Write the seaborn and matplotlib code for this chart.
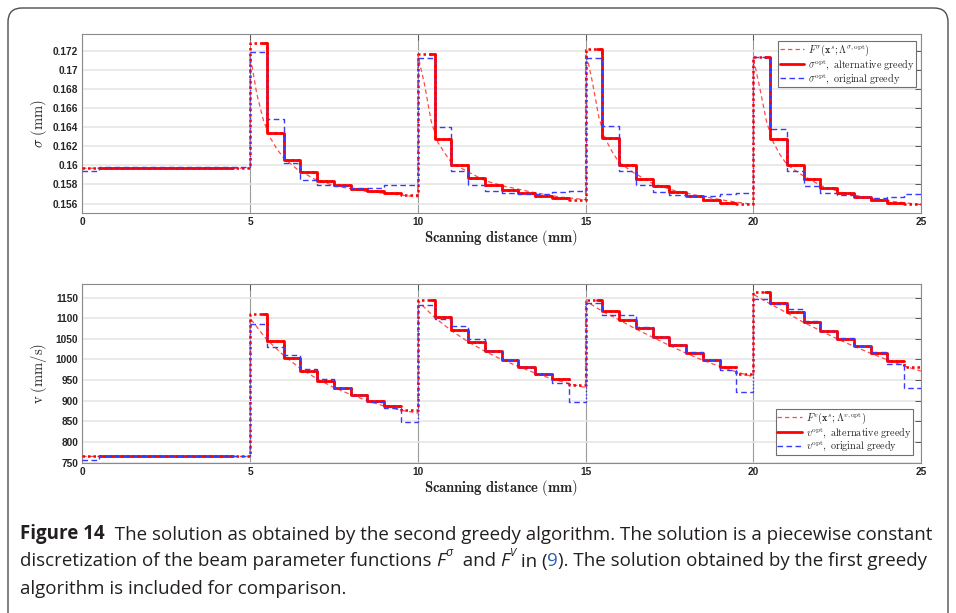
import numpy as np
import pandas as pd
import matplotlib
matplotlib.use("Agg")
import matplotlib.pyplot as plt
import seaborn as sns
from matplotlib.lines import Line2D
from matplotlib.patches import FancyBboxPatch
from matplotlib.transforms import IdentityTransform

# ---------------- data ----------------
step_width = 0.5
block_starts = [0, 5, 10, 15, 20]
block_ends = [5, 10, 15, 20, 25]

sigma_alt = [0.1597, 0.1597, 0.1597, 0.1597, 0.1597, 0.1597, 0.1597, 0.1597, 0.1597, 0.1597,
             0.1728, 0.1634, 0.1606, 0.1593, 0.1584, 0.1579, 0.1575, 0.1573, 0.1571, 0.1569,
             0.1717, 0.1628, 0.1600, 0.1587, 0.1579, 0.1574, 0.1571, 0.1568, 0.1566, 0.1564,
             0.1722, 0.1629, 0.1600, 0.1586, 0.1578, 0.1572, 0.1568, 0.1564, 0.1561, 0.1559,
             0.1713, 0.1628, 0.1600, 0.1586, 0.1576, 0.1571, 0.1567, 0.1564, 0.1561, 0.1560]
sigma_orig = [0.1594, 0.1598, 0.1598, 0.1598, 0.1598, 0.1598, 0.1598, 0.1598, 0.1598, 0.1598,
              0.1719, 0.1648, 0.1602, 0.1585, 0.1579, 0.1578, 0.1576, 0.1576, 0.1579, 0.1579,
              0.1712, 0.1640, 0.1594, 0.1579, 0.1573, 0.1571, 0.1570, 0.1570, 0.1572, 0.1573,
              0.1712, 0.1641, 0.1594, 0.1579, 0.1572, 0.1569, 0.1568, 0.1568, 0.1570, 0.1571,
              0.1713, 0.1638, 0.1594, 0.1578, 0.1571, 0.1569, 0.1567, 0.1566, 0.1567, 0.1570]
v_alt = [765, 765, 765, 765, 765, 765, 765, 765, 765, 765,
         1110, 1045, 1003, 972, 948, 930, 914, 899, 888, 878,
         1144, 1104, 1072, 1043, 1021, 999, 981, 965, 952, 938,
         1144, 1118, 1096, 1076, 1054, 1034, 1016, 999, 982, 966,
         1163, 1136, 1114, 1090, 1070, 1050, 1033, 1015, 997, 981]
v_orig = [756, 765, 765, 765, 765, 765, 765, 765, 765, 765,
          1085, 1031, 1011, 978, 953, 932, 914, 898, 882, 848,
          1132, 1098, 1081, 1050, 1021, 999, 981, 965, 942, 896,
          1138, 1108, 1108, 1078, 1054, 1034, 1017, 999, 975, 921,
          1146, 1134, 1123, 1094, 1070, 1051, 1033, 1019, 989, 932]

# continuous beam-parameter functions, sampled at offsets within each 5 mm block
f_sigma_offsets = [0.0, 0.2, 0.4, 0.6, 0.8, 1.0, 1.4, 2.0, 2.6, 3.4, 4.2, 5.0]
f_sigma_blocks = [
    [0.1597, 0.1597, 0.1597, 0.1597, 0.1597, 0.1597, 0.1597, 0.1597, 0.1597, 0.1597, 0.1597, 0.1597],
    [0.1716, 0.1675, 0.1647, 0.1629, 0.1617, 0.1608, 0.1596, 0.1584, 0.1578, 0.1573, 0.1570, 0.1567],
    [0.1716, 0.1685, 0.1646, 0.1624, 0.1613, 0.1603, 0.1595, 0.1584, 0.1578, 0.1572, 0.1567, 0.1564],
    [0.1721, 0.1688, 0.1650, 0.1627, 0.1614, 0.1603, 0.1593, 0.1581, 0.1574, 0.1568, 0.1563, 0.1559],
    [0.1713, 0.1680, 0.1645, 0.1624, 0.1611, 0.1601, 0.1591, 0.1579, 0.1572, 0.1566, 0.1562, 0.1559],
]
f_v_offsets = [0.0, 0.5, 1.0, 1.5, 2.0, 2.5, 3.0, 3.5, 4.0, 4.5, 5.0]
f_v_blocks = [
    [765, 765, 765, 765, 765, 765, 765, 765, 765, 765, 765],
    [1100, 1048, 1010, 978, 953, 932, 915, 900, 887, 877, 870],
    [1142, 1102, 1070, 1043, 1020, 1000, 983, 967, 953, 942, 932],
    [1142, 1117, 1096, 1074, 1054, 1034, 1015, 998, 983, 970, 958],
    [1158, 1135, 1113, 1090, 1070, 1050, 1032, 1015, 999, 984, 972],
]

x_ticks = [0, 5, 10, 15, 20, 25]
x_tick_labels = ["0", "5", "10", "15", "20", "25"]
sigma_ticks = [0.156, 0.158, 0.160, 0.162, 0.164, 0.166, 0.168, 0.170, 0.172]
sigma_tick_labels = ["0.156", "0.158", "0.16", "0.162", "0.164", "0.166", "0.168", "0.17", "0.172"]
v_ticks = [750, 800, 850, 900, 950, 1000, 1050, 1100, 1150]
v_tick_labels = ["750", "800", "850", "900", "950", "1000", "1050", "1100", "1150"]

x_label = r"$\mathbf{Scanning\ distance\ (mm)}$"
sigma_label = r"$\sigma\ \mathrm{(mm)}$"
v_label = r"$\mathrm{v\ (mm/s)}$"
sigma_legend = [r"$F^{\sigma}(\mathbf{x}^{s};\mathbf{\Lambda}^{\sigma,\mathrm{opt}})$",
                r"$\sigma^{\mathrm{opt}}\mathrm{,\ alternative\ greedy}$",
                r"$\sigma^{\mathrm{opt}}\mathrm{,\ original\ greedy}$"]
v_legend = [r"$F^{v}(\mathbf{x}^{s};\mathbf{\Lambda}^{v,\mathrm{opt}})$",
            r"$v^{\mathrm{opt}}\mathrm{,\ alternative\ greedy}$",
            r"$v^{\mathrm{opt}}\mathrm{,\ original\ greedy}$"]

# ---------------- style ----------------
sns.set_theme(style="white")
plt.rcParams["font.family"] = ["Liberation Sans", "DejaVu Sans"]
plt.rcParams["mathtext.fontset"] = "cm"

RED = "#ff0000"
FRED = "#ff4a4a"
BLUE = "#3a3aff"
TXT = "#262626"

step_edges = np.arange(0.0, 25.0 + 1e-9, step_width)


def step_xy(vals, lo, hi):
    xs, ys = [], []
    for i, v in enumerate(vals):
        l, r = step_edges[i], step_edges[i + 1]
        if r <= lo or l >= hi:
            continue
        xs += [max(l, lo), min(r, hi)]
        ys += [v, v]
    return np.array(xs), np.array(ys)


def line(ax, x, y, **kw):
    sns.lineplot(x=x, y=y, ax=ax, sort=False, estimator=None, **kw)


def draw_panel(ax, alt, orig, f_offsets, f_blocks):
    fx, fy = [], []
    for s, vals in zip(block_starts, f_blocks):
        fx += [s + o for o in f_offsets]
        fy += list(vals)
    line(ax, np.array(fx), np.array(fy), color=FRED, lw=0.9,
         linestyle=(0, (3.5, 2.5)), zorder=3)
    xs, ys = step_xy(alt, 0, 25)
    line(ax, xs, ys, color=RED, lw=1.8, linestyle=(0, (1, 1.2)), zorder=4)
    for k, (s, e) in enumerate(zip(block_starts, block_ends)):
        lo = s + (step_width if k == 0 else 0.35)
        hi = e - step_width
        xs, ys = step_xy(alt, lo, hi)
        line(ax, xs, ys, color=RED, lw=2.0, zorder=5)
    n_per = int(round(5 / step_width))
    for k, (s, e) in enumerate(zip(block_starts, block_ends)):
        xs, ys = step_xy(orig, s, e)
        line(ax, xs, ys, color=BLUE, lw=1.0, linestyle=(0, (4, 2.5)), zorder=6)
        if k > 0:
            line(ax, np.array([s, s]), np.array([orig[k * n_per - 1], orig[k * n_per]]),
                 color=BLUE, lw=1.0, linestyle=(0, (1, 1.5)), zorder=6)


def style_axes(ax, yticks, ylabels, ylim, ylabel):
    ax.set_xlim(0, 25)
    ax.set_ylim(*ylim)
    ax.set_xticks(x_ticks)
    ax.set_xticklabels(x_tick_labels)
    ax.set_yticks(yticks)
    ax.set_yticklabels(ylabels)
    ax.set_axisbelow(True)
    ax.yaxis.grid(True, color="#e4e4e4", lw=1.1)
    ax.xaxis.grid(True, color="#9a9a9a", lw=0.8)
    ax.tick_params(direction="in", length=4, width=0.7, color="#555555",
                   top=True, right=True, labelsize=7.3, labelcolor=TXT, pad=3)
    for lab in ax.get_xticklabels() + ax.get_yticklabels():
        lab.set_fontweight("bold")
    for sp in ax.spines.values():
        sp.set_color("#8a8a8a")
        sp.set_linewidth(0.8)
    ax.set_xlabel(x_label, fontsize=10.5, color=TXT)
    ax.set_ylabel(ylabel, fontsize=10.5, color=TXT)
    ax.xaxis.set_label_coords(0.499, -0.085)
    ax.yaxis.set_label_coords(-0.040, 0.5)


W, H = 956, 613
fig = plt.figure(figsize=(W / 100, H / 100), dpi=100)
ax1 = fig.add_axes([82.3 / W, 1 - 213 / H, 838.7 / W, 179 / H])
ax2 = fig.add_axes([82.3 / W, 1 - 463 / H, 838.7 / W, 179 / H])

draw_panel(ax1, sigma_alt, sigma_orig, f_sigma_offsets, f_sigma_blocks)
draw_panel(ax2, v_alt, v_orig, f_v_offsets, f_v_blocks)
style_axes(ax1, sigma_ticks, sigma_tick_labels, (0.15501, 0.17375), sigma_label)
style_axes(ax2, v_ticks, v_tick_labels, (749, 1183), v_label)


def legend_handles():
    return [Line2D([], [], color=FRED, lw=0.9, linestyle=(0, (3.5, 2.5))),
            Line2D([], [], color=RED, lw=2.0),
            Line2D([], [], color=BLUE, lw=1.0, linestyle=(0, (4, 2.5)))]


for ax, labels, loc, anchor in [(ax1, sigma_legend, "upper right", (0.994, 0.961)),
                                (ax2, v_legend, "lower right", (0.990, 0.045))]:
    leg = ax.legend(legend_handles(), labels, loc=loc, bbox_to_anchor=anchor,
                    borderaxespad=0, fontsize=7.3, frameon=True, fancybox=False,
                    framealpha=1, edgecolor="#707070", handlelength=2.4,
                    handletextpad=0.4, borderpad=0.15, labelspacing=-0.05)
    leg.get_frame().set_linewidth(0.8)
    for t in leg.get_texts():
        t.set_color(TXT)

# ---------------- frame and caption ----------------
frame = FancyBboxPatch((8, -20), 940, H - 8 + 20, boxstyle="round,pad=0,rounding_size=14",
                       transform=IdentityTransform(), fill=False, edgecolor="#4d4d4d",
                       lw=1.0, zorder=10)
fig.patches.append(frame)

cap_ax = fig.add_axes([0, 0, 1, 1])
cap_ax.axis("off")
cap_font = ["Open Sans", "DejaVu Sans"]
CAP = 13.5


def caption_line(pieces, y_px):
    prev = None
    base = None
    for txt, kw in pieces:
        props = dict(fontsize=CAP, family=cap_font, color="#231f20")
        props.update(kw)
        off = props.pop("rise", 0)
        if prev is None:
            prev = cap_ax.text(20 / W, 1 - y_px / H, txt, transform=fig.transFigure,
                               ha="left", va="baseline", **props)
            base = prev
        else:
            t = cap_ax.annotate(txt, xy=(1, 0), xycoords=(prev, base), xytext=(0, off),
                                textcoords="offset points", ha="left", va="bottom",
                                annotation_clip=False, **props)
            prev = t
            if off == 0 and props["fontsize"] == CAP:
                base = t


caption_line([("Figure 14", dict(fontweight="bold")),
              ("  The solution as obtained by the second greedy algorithm. The solution is a piecewise constant", {})],
             539)
caption_line([("discretization of the beam parameter functions ", {}),
              ("F", dict(style="italic")),
              ("\u03c3", dict(fontsize=9, style="italic", rise=8)),
              ("  and ", {}),
              ("F", dict(style="italic")),
              ("V", dict(fontsize=8, style="italic", rise=8)),
              (" in (", {}),
              ("9", dict(color="#2f5fb3")),
              ("). The solution obtained by the first greedy", {})],
             566.5)
caption_line([("algorithm is included for comparison.", {})], 594)

fig.savefig("out.png", dpi=100)
